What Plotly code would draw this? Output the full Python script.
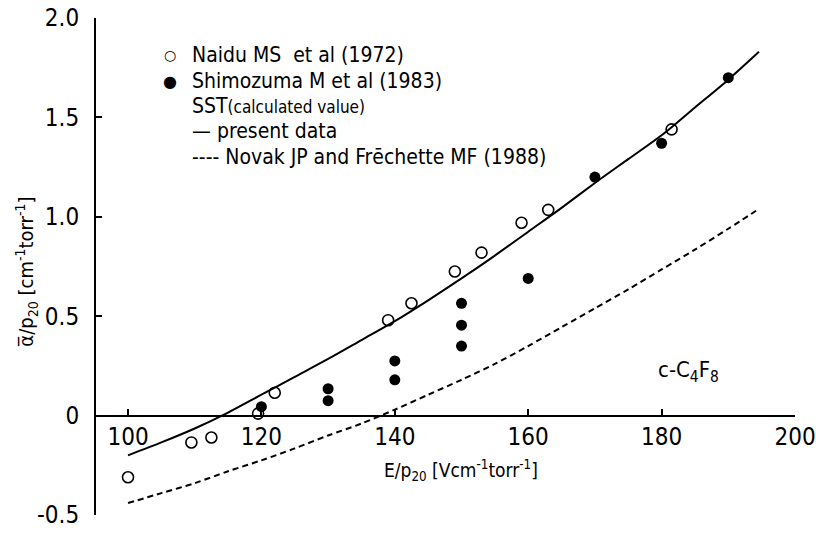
import plotly.graph_objects as go

# Measured ionization coefficients (open circles: Naidu et al 1972)
naidu_x = [100, 109.5, 112.5, 119.5, 122, 139, 142.5, 149, 153, 159, 163, 181.5]
naidu_y = [-0.31, -0.135, -0.11, 0.01, 0.115, 0.48, 0.565, 0.725, 0.82, 0.97, 1.035, 1.44]

# Measured values (filled circles: Shimozuma et al 1983)
shimo_x = [120, 130, 130, 140, 140, 150, 150, 150, 160, 170, 180, 190]
shimo_y = [0.045, 0.135, 0.075, 0.275, 0.18, 0.565, 0.455, 0.35, 0.69, 1.20, 1.37, 1.70]

# SST calculated curves
present_x = [100, 105, 110, 115, 120, 125, 130, 135, 140, 145, 150, 155, 160,
             165, 170, 175, 180, 185, 190, 194.6]
present_y = [-0.20, -0.135, -0.065, 0.015, 0.105, 0.195, 0.285, 0.38, 0.475, 0.58, 0.69,
             0.805, 0.925, 1.045, 1.17, 1.29, 1.41, 1.55, 1.69, 1.83]
novak_x = [100, 105, 110, 115, 120, 125, 130, 135, 140, 145, 150, 155, 160,
           165, 170, 175, 180, 185, 190, 194.6]
novak_y = [-0.44, -0.39, -0.34, -0.28, -0.225, -0.165, -0.10, -0.04, 0.03, 0.105, 0.18,
           0.26, 0.35, 0.445, 0.54, 0.635, 0.735, 0.835, 0.94, 1.04]

x_ticks = [100, 120, 140, 160, 180, 200]
y_ticks = [-0.5, 0, 0.5, 1.0, 1.5, 2.0]
y_ticktext = ["-0.5", "0", "0.5", "1.0", "1.5", "2.0"]

FONT = "DejaVu Sans Condensed, Liberation Sans, sans-serif"

fig = go.Figure()
fig.add_trace(go.Scatter(x=present_x, y=present_y, mode="lines",
                         line=dict(color="black", width=2, shape="spline", smoothing=0.8),
                         showlegend=False))
fig.add_trace(go.Scatter(x=novak_x, y=novak_y, mode="lines",
                         line=dict(color="black", width=2, dash="6px,4px",
                                   shape="spline", smoothing=0.8),
                         showlegend=False))
fig.add_trace(go.Scatter(x=naidu_x, y=naidu_y, mode="markers",
                         marker=dict(symbol="circle-open", size=11, color="black",
                                     line=dict(width=1.6, color="black")),
                         showlegend=False))
fig.add_trace(go.Scatter(x=shimo_x, y=shimo_y, mode="markers",
                         marker=dict(symbol="circle", size=11, color="black"),
                         showlegend=False))

W, H = 816, 534
L, R, T, B = 96, 21, 18, 19
pw, ph = W - L - R, H - T - B


def px(x):
    return (x - L) / pw


def py(y):
    return (H - B - y) / ph


ann = []
key_font = dict(family=FONT, size=21, color="black")
ann.append(dict(x=px(170), y=py(55), text="○", font=dict(family="DejaVu Sans", size=14, color="black"),
                xanchor="center", yanchor="middle"))
ann.append(dict(x=px(170), y=py(81), text="●", font=dict(family="DejaVu Sans", size=16, color="black"),
                xanchor="center", yanchor="middle"))
rows = [
    (55, "Naidu MS  et al (1972)"),
    (81, "Shimozuma M et al (1983)"),
    (106, "SST<span style='font-size:17px'>(calculated value)</span>"),
    (131, "— present data"),
    (157, "---- Novak JP and Frēchette MF (1988)"),
]
for yy, t in rows:
    ann.append(dict(x=px(190), y=py(yy), text=t, font=key_font, xanchor="left", yanchor="middle"))

ann.append(dict(x=184, y=0.22, xref="x", yref="y", text="c-C<sub>4</sub>F<sub>8</sub>",
                font=dict(family=FONT, size=22, color="black"), xanchor="center", yanchor="middle"))
ann.append(dict(x=px(461), y=py(470),
                text="E/p<sub>20</sub> [Vcm<sup>-1</sup>torr<sup>-1</sup>]",
                font=dict(family=FONT, size=19, color="black"), xanchor="center", yanchor="middle"))
ann.append(dict(x=px(26), y=py(272), textangle=-90,
                text="α̅/p<sub>20</sub> [cm<sup>-1</sup>torr<sup>-1</sup>]",
                font=dict(family=FONT, size=20, color="black"), xanchor="center", yanchor="middle"))

for a in ann:
    a.setdefault("xref", "paper")
    a.setdefault("yref", "paper")
    a["showarrow"] = False

fig.update_layout(
    width=W, height=H,
    margin=dict(l=L, r=R, t=T, b=B),
    paper_bgcolor="white", plot_bgcolor="white",
    annotations=ann,
    xaxis=dict(range=[95.2, 200], anchor="free", position=0.2,
               showline=True, linecolor="black", linewidth=2,
               ticks="inside", ticklen=6, tickwidth=1.5, tickcolor="black",
               tickvals=x_ticks, showgrid=False, zeroline=False,
               ticklabeloverflow="allow", automargin=False,
               tickfont=dict(family=FONT, size=24, color="black")),
    yaxis=dict(range=[-0.5, 2.0], showline=True, linecolor="black", linewidth=2,
               ticks="inside", ticklen=6, tickwidth=1.5, tickcolor="black",
               tickvals=y_ticks, ticktext=y_ticktext, showgrid=False, zeroline=False,
               ticklabelstandoff=10, ticklabeloverflow="allow", automargin=False,
               tickfont=dict(family=FONT, size=24, color="black")),
)

fig.write_html("out.html")
